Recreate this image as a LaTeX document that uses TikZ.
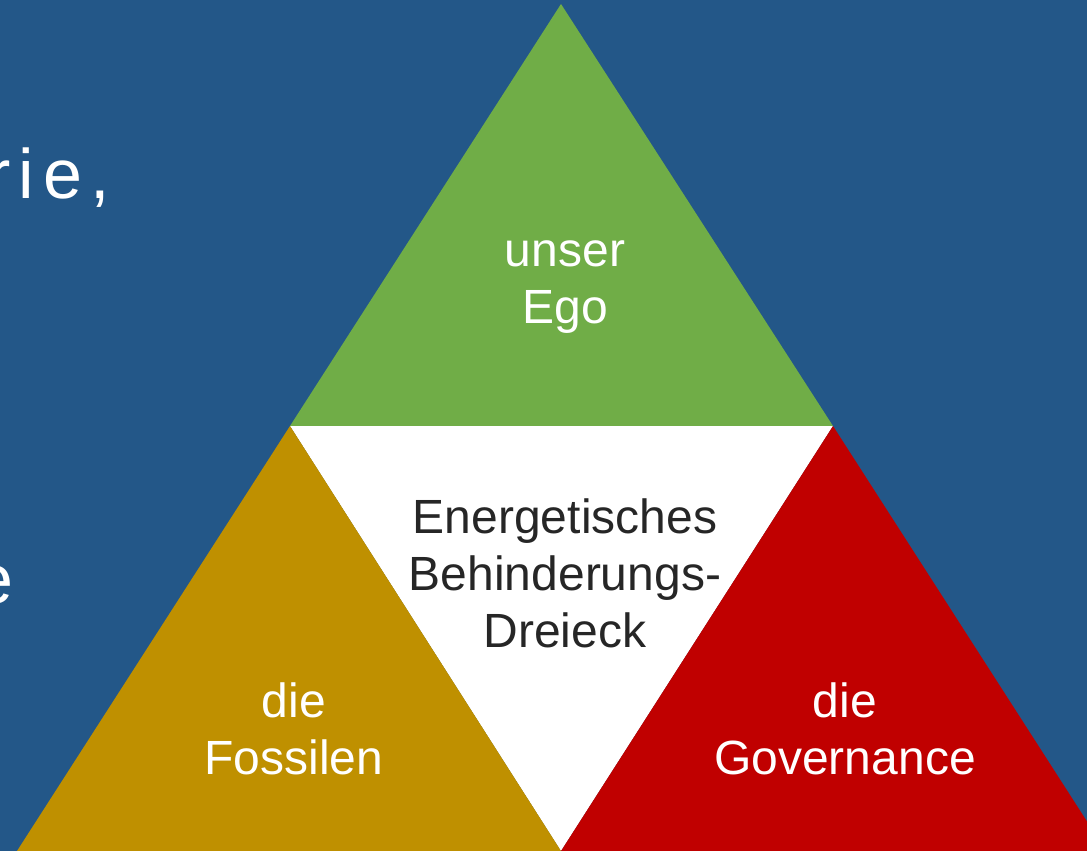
\documentclass[tikz,border=0pt]{standalone}
\usepackage{fontspec}
\setmainfont{Liberation Sans}
\definecolor{bg}{HTML}{235788}
\definecolor{egogreen}{HTML}{70AD47}
\definecolor{fossgold}{HTML}{BF9000}
\definecolor{govred}{HTML}{C00000}
\definecolor{darktext}{HTML}{262626}
\begin{document}
\begin{tikzpicture}[x=1pt,y=-1pt,
  lbl/.style={align=center,font=\fontsize{48}{57}\selectfont,inner sep=0pt},
  bigtxt/.style={font=\fontsize{70}{80}\selectfont\addfontfeature{LetterSpace=12},text=white,inner sep=0pt}]
\useasboundingbox (0,0) rectangle (1087,851);
\clip (0,0) rectangle (1087,851);
\fill[bg] (0,0) rectangle (1087,851);
\coordinate (apex) at (561,4);
\coordinate (bl) at (290,426);
\coordinate (br) at (833,426);
\coordinate (ll) at (17,851);
\coordinate (mm) at (561,851);
\coordinate (rr) at (1106,851);
\fill[egogreen] (apex) -- (br) -- (bl) -- cycle;
\fill[white] (bl) -- (br) -- (mm) -- cycle;
\fill[fossgold] (bl) -- (mm) -- (ll) -- cycle;
\fill[govred] (br) -- (rr) -- (mm) -- cycle;
\node[bigtxt,anchor=base east] (t1) at (110,198) {rie,};
\node[bigtxt,anchor=base east] (t2) at (14,603) {e};
\node[lbl,text=white] (ego) at (565,287) {unser\\Ego};
\node[lbl,text=darktext] (mid) at (565,573) {Energetisches\\Behinderungs-\\Dreieck};
\node[lbl,text=white] (foss) at (294,729) {die\\Fossilen};
\node[lbl,text=white] (gov) at (845,729) {die\\Governance};
\end{tikzpicture}
\end{document}
